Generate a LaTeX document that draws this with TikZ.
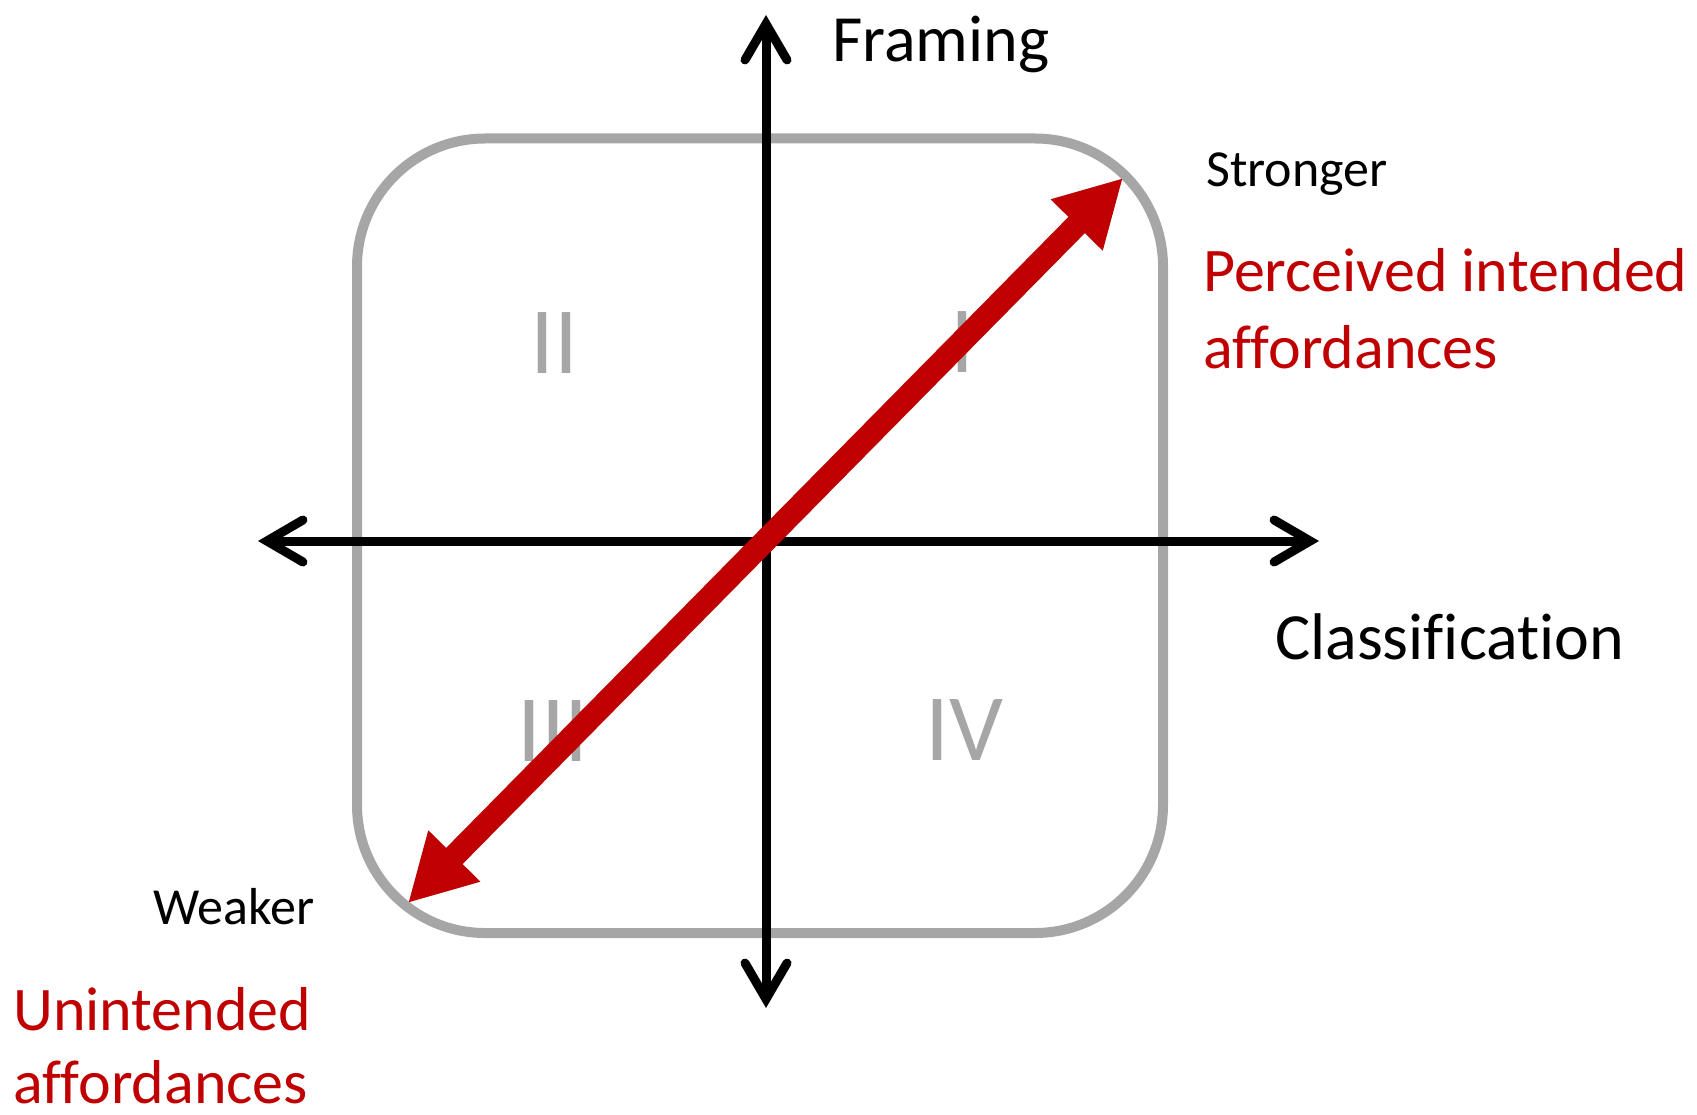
\documentclass[tikz,border=0pt]{standalone}
\usepackage{fontspec}
\setmainfont{Carlito}[Ligatures={NoCommon}]
\usetikzlibrary{arrows.meta}
\definecolor{myred}{HTML}{C00000}
\definecolor{mygray}{HTML}{A6A6A6}
\tikzset{
  barb/.tip={Straight Barb[length=36pt,width=42pt,line cap=round]},
  redtip/.tip={Triangle[length=66pt,width=68pt]}
}
\begin{document}
\begin{tikzpicture}[x=1pt,y=-1pt,
  frame/.style={draw=mygray, line width=10pt, rounded corners=128pt},
  quad/.style={text=mygray, font=\fontsize{95}{95}\selectfont, inner sep=0pt},
  axis/.style={draw=black, line width=9pt, barb-barb},
  bigarrow/.style={draw=myred, line width=23pt, redtip-redtip},
  biglbl/.style={inner sep=0pt, anchor=base west, font=\fontsize{66}{79}\selectfont},
  smalllbl/.style={inner sep=0pt, anchor=base west, font=\fontsize{52}{62}\selectfont},
  redlbl/.style={inner sep=0pt, anchor=base west, text=myred, font=\fontsize{62}{74}\selectfont}
]
\useasboundingbox (0,0) rectangle (1697,1115);
% frame
\draw[frame] (357,138.5) rectangle (1163,933);
% quadrant numerals
\node[quad] (q2) at (554,343) {II};
\node[quad] (q1) at (962,342) {I};
\node[quad] (q3) at (553,731) {III};
\node[quad] (q4) at (964,730) {IV};
% axes
\coordinate (top) at (766,15);
\coordinate (bottom) at (766,1008);
\coordinate (left) at (258,541);
\coordinate (right) at (1319,541);
\draw[axis] (bottom) -- (top);
\draw[axis] (left) -- (right);
% red arrow
\coordinate (weak) at (408,903);
\coordinate (strong) at (1123,178);
\begin{scope}[shift={(3,3)}]
\draw[bigarrow, draw=black, opacity=0.22] (weak) -- (strong);
\end{scope}
\draw[bigarrow] (weak) -- (strong);
% labels
\node[biglbl] (framing) at (832,62) {Framing};
\node[biglbl] (classif) at (1275,659) {Classification};
\node[smalllbl] (stronger) at (1206,187) {Stronger};
\node[smalllbl] (weaker) at (153,924) {Weaker};
\node[redlbl] (perc1) at (1203,292) {Perceived intended};
\node[redlbl] (perc2) at (1203,368) {affordances};
\node[redlbl] (unint1) at (13,1030) {Unintended};
\node[redlbl] (unint2) at (13,1103) {affordances};
\end{tikzpicture}
\end{document}
